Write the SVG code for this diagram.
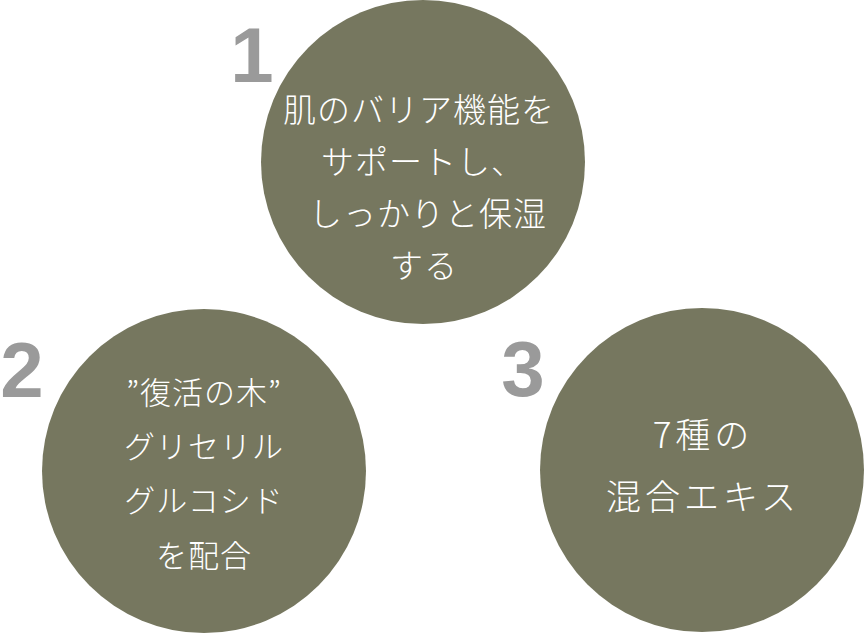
<svg xmlns="http://www.w3.org/2000/svg" width="865" height="634" viewBox="0 0 865 634">
<style>
.c{fill:#76775f}
.n{font-family:"Liberation Sans",Arial,sans-serif;font-weight:bold;font-size:78px;fill:#9a9a9a;text-anchor:middle}
.t{font-family:"Noto Sans CJK JP","Noto Sans",sans-serif;font-weight:300;fill:#ffffff;text-anchor:middle}
.t1{font-size:33px;letter-spacing:1px}
.t2{font-size:31px;letter-spacing:1px}
.t3{font-size:35px;letter-spacing:4px}
</style>
<rect width="865" height="634" fill="#ffffff"/>
<g id="connectors"></g>
<g id="node1">
<circle class="c" cx="423" cy="162" r="162"/>
<text class="n" x="252" y="82">1</text>
<text class="t t1" x="419" y="122">肌のバリア機能を</text>
<text class="t t1" x="423" y="174">サポートし、</text>
<text class="t t1" x="428" y="226">しっかりと保湿</text>
<text class="t t1" x="424" y="278">する</text>
</g>
<g id="node2">
<circle class="c" cx="204" cy="471" r="162"/>
<text class="n" x="22" y="397">2</text>
<text class="t t2" x="204" y="404">”復活の木”</text>
<text class="t t2" x="204" y="458">グリセリル</text>
<text class="t t2" x="204" y="512">グルコシド</text>
<text class="t t2" x="204" y="567">を配合</text>
</g>
<g id="node3">
<circle class="c" cx="702" cy="470" r="162"/>
<text class="n" x="523" y="396">3</text>
<text class="t t3" x="703" y="448">7種の</text>
<text class="t t3" x="703" y="510">混合エキス</text>
</g>
</svg>
